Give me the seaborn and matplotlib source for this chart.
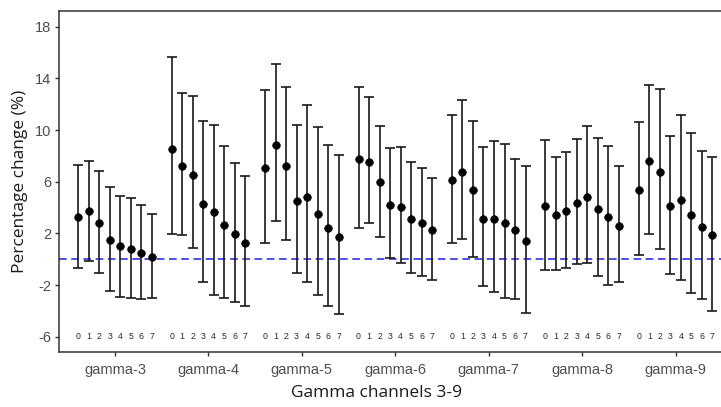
import numpy as np
import pandas as pd
import matplotlib
matplotlib.use("Agg")
import matplotlib.pyplot as plt
import seaborn as sns

groups = ["gamma-3", "gamma-4", "gamma-5", "gamma-6", "gamma-7", "gamma-8", "gamma-9"]
lags = [0, 1, 2, 3, 4, 5, 6, 7]

est_g3 = [3.24, 3.70, 2.78, 1.46, 1.00, 0.81, 0.46, 0.17]
lo_g3 = [-0.66, -0.12, -1.04, -2.46, -2.90, -3.00, -3.10, -3.00]
hi_g3 = [7.27, 7.62, 6.80, 5.56, 4.92, 4.74, 4.17, 3.52]

est_g4 = [8.55, 7.24, 6.49, 4.27, 3.63, 2.67, 1.93, 1.25]
lo_g4 = [1.93, 1.85, 0.84, -1.79, -2.75, -2.98, -3.29, -3.62]
hi_g4 = [15.63, 12.84, 12.66, 10.72, 10.41, 8.76, 7.42, 6.42]

est_g5 = [7.08, 8.84, 7.24, 4.53, 4.81, 3.52, 2.41, 1.74]
lo_g5 = [1.28, 2.98, 1.49, -1.04, -1.79, -2.80, -3.62, -4.22]
hi_g5 = [13.12, 15.11, 13.33, 10.41, 11.93, 10.23, 8.84, 8.07]

est_g6 = [7.73, 7.52, 5.95, 4.17, 4.06, 3.13, 2.78, 2.24]
lo_g6 = [2.41, 2.80, 1.74, 0.07, -0.32, -1.04, -1.32, -1.59]
hi_g6 = [13.33, 12.58, 10.33, 8.58, 8.66, 7.52, 7.08, 6.31]

est_g7 = [6.13, 6.77, 5.38, 3.13, 3.13, 2.78, 2.24, 1.38]
lo_g7 = [1.28, 1.56, 0.17, -2.07, -2.54, -3.00, -3.10, -4.14]
hi_g7 = [11.18, 12.32, 10.72, 8.66, 9.12, 8.94, 7.73, 7.19]

est_g8 = [4.09, 3.42, 3.70, 4.37, 4.84, 3.88, 3.24, 2.60]
lo_g8 = [-0.86, -0.86, -0.68, -0.40, -0.29, -1.32, -2.00, -1.79]
hi_g8 = [9.20, 7.93, 8.30, 9.33, 10.33, 9.41, 8.76, 7.19]

est_g9 = [5.38, 7.62, 6.77, 4.09, 4.56, 3.42, 2.49, 1.85]
lo_g9 = [0.35, 1.95, 0.81, -1.15, -1.61, -2.64, -3.10, -4.03]
hi_g9 = [10.62, 13.51, 13.15, 9.51, 11.18, 9.79, 8.40, 7.93]

yticks = [-6, -2, 2, 6, 10, 14, 18]
label_y = -6

ests = [est_g3, est_g4, est_g5, est_g6, est_g7, est_g8, est_g9]
los = [lo_g3, lo_g4, lo_g5, lo_g6, lo_g7, lo_g8, lo_g9]
his = [hi_g3, hi_g4, hi_g5, hi_g6, hi_g7, hi_g8, hi_g9]

dodge = 0.9
rows = []
for gi, g in enumerate(groups):
    for li, lag in enumerate(lags):
        x = gi + (li - (len(lags) - 1) / 2) * dodge / len(lags)
        rows.append(dict(group=g, lag=lag, x=x, est=ests[gi][li], lo=los[gi][li], hi=his[gi][li]))
df = pd.DataFrame(rows)

sns.set_style("white")
plt.rcParams['font.family'] = ['Liberation Sans', 'DejaVu Sans']

fig = plt.figure(figsize=(7.21, 4.07), dpi=100)
ax = fig.add_axes([58.9 / 721, 1 - 352 / 407, 672.8 / 721, (352 - 11) / 407])

ax.axhline(0, color="#1f1fe6", lw=1.1, ls=(0, (5, 3)), zorder=1)

ax.errorbar(df["x"], df["est"], yerr=[df["est"] - df["lo"], df["hi"] - df["est"]],
            fmt="none", ecolor="#1a1a1a", elinewidth=1.2, capsize=3.3, capthick=1.2, zorder=2)
sns.scatterplot(data=df, x="x", y="est", color="black", s=30, edgecolor="black",
                linewidth=0.5, zorder=3, ax=ax, legend=False)

for _, r in df.iterrows():
    ax.text(r["x"], label_y, str(int(r["lag"])), ha="center", va="center",
            fontsize=6.3, color="#2a2a2a")

ax.set_xlim(-0.6, len(groups) - 1 + 0.6)
ax.set_ylim(-7.18, 19.21)
ax.set_xticks(range(len(groups)))
ax.set_xticklabels(groups)
ax.set_yticks(yticks)
ax.set_yticklabels([str(t) for t in yticks])
ax.tick_params(axis="both", which="both", direction="out", length=3.2, width=1.0,
               color="#333333", labelcolor="#4d4d4d", labelsize=10.5,
               bottom=True, left=True)
ax.tick_params(axis="x", pad=4.5)
ax.tick_params(axis="y", pad=2.5)
for s in ax.spines.values():
    s.set_color("#333333")
    s.set_linewidth(1.1)

ax.set_xlabel("Gamma channels 3-9", fontsize=12.5, color="#1a1a1a", family=["Open Sans", "DejaVu Sans"])
ax.set_ylabel("Percentage change (%)", fontsize=12.5, color="#1a1a1a", family=["Open Sans", "DejaVu Sans"])
ax.xaxis.set_label_coords((376.7 - 58.9) / 672.8, -0.097)
ax.yaxis.set_label_coords(-0.046, 0.5)

fig.savefig("out.png", dpi=100)
